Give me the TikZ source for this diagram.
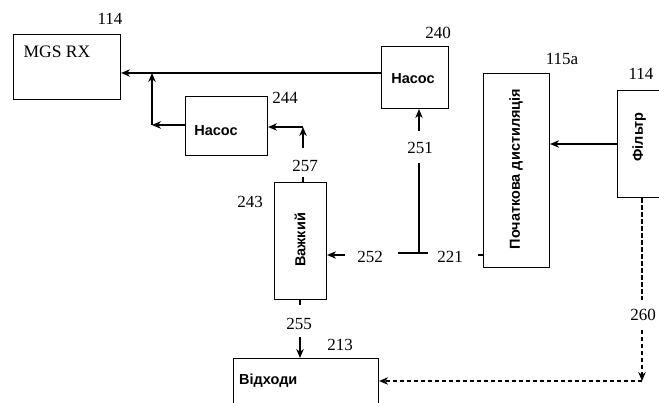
\documentclass[tikz,border=0pt]{standalone}
\usepackage{fontspec}
\setmainfont{Liberation Serif}
\newfontfamily\labfont{Liberation Sans}
\usetikzlibrary{arrows.meta}
\begin{document}
\begin{tikzpicture}[x=1pt,y=-1pt,
  box/.style={draw,line width=1.1pt,inner sep=0pt,anchor=north west},
  lbl/.style={font=\labfont\bfseries\fontsize{14.5}{15}\selectfont,inner sep=0pt},
  num/.style={font=\fontsize{17}{19}\selectfont,inner sep=0pt},
  conn/.style={line width=1.1pt},
  arr/.style={conn,-{Stealth[length=9pt,width=7.5pt]}},
  darr/.style={conn,dash pattern=on 4.5pt off 2.5pt,-{Stealth[length=9pt,width=7.5pt]}}]
\useasboundingbox (0,0) rectangle (659,403);
\clip (0,0) rectangle (659,403);
% boxes
\node[box,minimum width=107pt,minimum height=65pt] (mgs) at (13,34) {};
\node[box,minimum width=67pt,minimum height=62pt] (p240) at (381,46) {};
\node[box,minimum width=82pt,minimum height=59pt] (p244) at (185,96) {};
\node[box,minimum width=52pt,minimum height=117pt] (heavy) at (274,182) {};
\node[box,minimum width=66pt,minimum height=194pt] (dist) at (483,73) {};
\node[box,minimum width=60pt,minimum height=107pt] (filt) at (617,90) {};
\node[box,minimum width=145pt,minimum height=60pt] (waste) at (233,358) {};
% box texts
\node[font=\fontsize{17.5}{19}\selectfont,inner sep=0pt] (tmgs) at (57,52) {MGS RX};
\node[lbl] (t240) at (413,79) {Насос};
\node[lbl] (t244) at (216,131) {Насос};
\node[lbl,rotate=90] (theavy) at (300,240) {Важкий};
\node[lbl,rotate=90] (tdist) at (516,169) {Початкова дистиляція};
\node[lbl,rotate=90] (tfilt) at (639,137) {Фільтр};
\node[lbl,anchor=west] (twaste) at (239,381) {Відходи};
% numbers
\node[num] (n114a) at (110,19) {114};
\node[num] (n240) at (438,33) {240};
\node[num] (n244) at (285,98) {244};
\node[num] (n257) at (305,166) {257};
\node[num] (n243) at (250,202) {243};
\node[num] (n251) at (420,148) {251};
\node[num] (n252) at (370,257) {252};
\node[num] (n221) at (450,257) {221};
\node[num] (n115) at (562,59) {115a};
\node[num] (n114b) at (641,74) {114};
\node[num] (n255) at (299,324) {255};
\node[num] (n213) at (340,345) {213};
\node[num] (n260) at (643,315) {260};
% coordinates
\coordinate (c152a) at (152,125);
\coordinate (c152b) at (152,73);
\coordinate (c303a) at (303,148);
\coordinate (c303b) at (303,127);
\coordinate (c419a) at (419,131);
\coordinate (c419b) at (419,163);
\coordinate (c419c) at (419,253);
\coordinate (h398) at (398,253);
\coordinate (h428) at (428,253);
\coordinate (h345) at (345,255);
\coordinate (h478) at (478,255);
\coordinate (c300a) at (300,337);
\coordinate (c300b) at (300,305);
\coordinate (d642a) at (642,300);
\coordinate (d642b) at (642,330);
\coordinate (d642c) at (642,381);
\coordinate (t303) at (303,177);
% connectors
\draw[arr] (p240.west |- 0,73) -- (mgs.east |- 0,73);
\draw[arr] (p244.west |- 0,125) -- (c152a);
\draw[arr] (c152a) -- (c152b);
\draw[arr] (c303a) -- (c303b);
\draw[arr] (c303b) -- (p244.east |- c303b);
\draw[conn] (t303) -- (heavy.north -| t303);
\draw[arr] (c419a) -- (p240.south -| c419a);
\draw[conn] (c419b) -- (c419c);
\draw[conn] (h398) -- (h428);
\draw[arr] (h345) -- (heavy.east |- h345);
\draw[conn] (h478) -- (dist.west |- h478);
\draw[arr] (filt.west |- 0,144) -- (dist.east |- 0,144);
\draw[conn] (heavy.south -| c300b) -- (c300b);
\draw[arr] (c300a) -- (waste.north -| c300a);
\draw[conn,dash pattern=on 4.5pt off 2.5pt] (filt.south -| d642a) -- (d642a);
\draw[darr] (d642b) -- (d642c);
\draw[darr] (d642c) -- (waste.east |- d642c);
\end{tikzpicture}
\end{document}
